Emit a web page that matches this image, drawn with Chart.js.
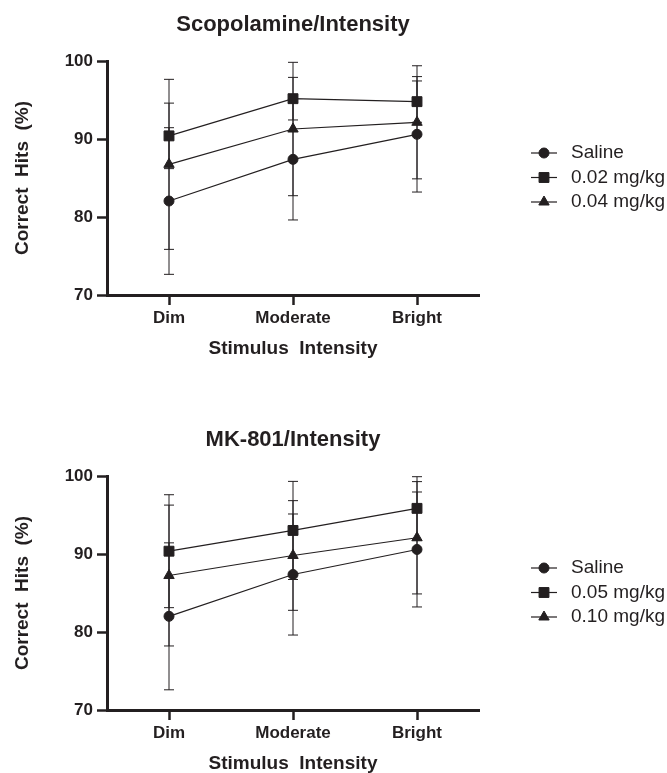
<!DOCTYPE html>
<html>
<head>
<meta charset="utf-8">
<script src="https://cdn.jsdelivr.net/npm/chart.js@4.4.0/dist/chart.umd.min.js"></script>
<style>
  html, body { margin: 0; padding: 0; background: #fff; overflow: hidden; }
  canvas { position: absolute; left: 0; }
</style>
</head>
<body>
<canvas id="scopPlot" width="667" height="415" style="top:0"></canvas>
<canvas id="mkPlot" width="667" height="415" style="top:415px"></canvas>
<script>
var intensities = ["Dim", "Moderate", "Bright"];
var yTicks = [70, 80, 90, 100];

// Scopolamine panel
var scopLabels = ["Saline", "0.02 mg/kg", "0.04 mg/kg"];
var scopSaline = [82.05, 87.39, 90.6];
var scopSalineErr = [9.4, 7.77, 7.4];
var scopLow = [90.4, 95.17, 94.79];
var scopLowErr = [4.2, 2.73, 2.65];
var scopHigh = [86.75, 91.28, 92.14];
var scopHighErr = [10.9, 8.55, 7.25];

// MK-801 panel
var mkLabels = ["Saline", "0.05 mg/kg", "0.10 mg/kg"];
var mkSaline = [82.01, 87.37, 90.58];
var mkSalineErr = [9.42, 7.76, 7.37];
var mkLow = [90.36, 93.02, 95.85];
var mkLowErr = [7.24, 6.29, 4.06];
var mkHigh = [87.24, 89.81, 92.08];
var mkHighErr = [9.03, 7.03, 7.2];

var INK = "#231f20";
var FONT = "'Liberation Sans', Arial, Helvetica, sans-serif";
var markers = ["circle", "rect", "triangle"];
var markerRadius = [5, 7, 6];

var errorBars = {
  id: 'errorBars',
  beforeDatasetsDraw: function(chart) {
    var ctx = chart.ctx;
    var yScale = chart.scales.y;
    ctx.save();
    ctx.strokeStyle = INK;
    ctx.lineWidth = 1;
    chart.data.datasets.forEach(function(ds, i) {
      var meta = chart.getDatasetMeta(i);
      ds.errors.forEach(function(err, j) {
        var x = meta.data[j].x;
        var top = yScale.getPixelForValue(ds.data[j] + err);
        var bottom = yScale.getPixelForValue(ds.data[j] - err);
        ctx.beginPath();
        ctx.moveTo(x, top); ctx.lineTo(x, bottom);
        ctx.moveTo(x - 5, top); ctx.lineTo(x + 5, top);
        ctx.moveTo(x - 5, bottom); ctx.lineTo(x + 5, bottom);
        ctx.stroke();
      });
    });
    ctx.restore();
  }
};

// legend drawn beside the plot: line with the marker, then the label
var sideLegend = {
  id: 'sideLegend',
  afterDraw: function(chart, args, opts) {
    var ctx = chart.ctx;
    ctx.save();
    chart.data.datasets.forEach(function(ds, i) {
      var y = opts.top + i * opts.rowGap;
      var cx = opts.lineLeft + opts.lineWidth / 2;
      ctx.strokeStyle = INK;
      ctx.fillStyle = INK;
      ctx.lineWidth = 1.2;
      ctx.beginPath();
      ctx.moveTo(opts.lineLeft, y);
      ctx.lineTo(opts.lineLeft + opts.lineWidth, y);
      ctx.stroke();
      if (Chart.helpers && Chart.helpers.drawPoint) {
        ctx.lineWidth = 1;
        Chart.helpers.drawPoint(ctx, {pointStyle: ds.pointStyle, radius: ds.pointRadius, borderWidth: 1, rotation: 0}, cx, y);
      }
      ctx.font = "19px " + FONT;
      ctx.textAlign = "left";
      ctx.textBaseline = "middle";
      ctx.fillText(ds.label, opts.textLeft, y);
    });
    ctx.restore();
  }
};

function makeChart(id, title, labels, series, errs) {
  var datasets = series.map(function(values, i) {
    return {
      label: labels[i],
      data: values,
      errors: errs[i],
      borderColor: INK,
      backgroundColor: INK,
      borderWidth: 1.2,
      pointStyle: markers[i],
      pointRadius: markerRadius[i],
      pointHoverRadius: markerRadius[i],
      pointBorderWidth: 1,
      tension: 0
    };
  });
  var tickFont = {family: FONT, size: 17, weight: 'bold'};
  var titleFont = {family: FONT, size: 19, weight: 'bold'};
  return new Chart(document.getElementById(id), {
    type: 'line',
    data: {labels: intensities, datasets: datasets},
    options: {
      responsive: false,
      animation: false,
      layout: {padding: {left: 0, right: 188, top: 0, bottom: 50}},
      plugins: {
        legend: {display: false},
        tooltip: {enabled: false},
        title: {
          display: true, text: title, fullSize: false, color: INK,
          font: {family: FONT, size: 22, weight: 'bold'},
          padding: {top: 12, bottom: 22.6}
        },
        sideLegend: {lineLeft: 531, lineWidth: 26, textLeft: 571, top: 153, rowGap: 24.5}
      },
      scales: {
        x: {
          type: 'category',
          offset: true,
          grid: {drawOnChartArea: false, tickLength: 10, tickWidth: 2.5, tickColor: INK},
          border: {color: INK, width: 3},
          ticks: {color: INK, font: tickFont, padding: 3},
          title: {display: true, text: 'Stimulus  Intensity', color: INK, font: titleFont, padding: {top: 0, bottom: 4.6}},
          afterFit: function(scale) { scale.height = 70; }
        },
        y: {
          min: 70,
          max: 100,
          afterBuildTicks: function(scale) {
            scale.ticks = yTicks.map(function(v) { return {value: v}; });
          },
          grid: {drawOnChartArea: false, tickLength: 10, tickWidth: 2.5, tickColor: INK},
          border: {color: INK, width: 3},
          ticks: {color: INK, font: tickFont, padding: 4},
          title: {display: true, text: 'Correct  Hits  (%)', color: INK, font: titleFont, padding: {top: 11.6, bottom: 0}},
          afterFit: function(scale) { scale.width = 107; }
        }
      }
    },
    plugins: [errorBars, sideLegend]
  });
}

makeChart('scopPlot', 'Scopolamine/Intensity', scopLabels,
  [scopSaline, scopLow, scopHigh], [scopSalineErr, scopLowErr, scopHighErr]);
makeChart('mkPlot', 'MK-801/Intensity', mkLabels,
  [mkSaline, mkLow, mkHigh], [mkSalineErr, mkLowErr, mkHighErr]);
</script>
</body>
</html>
